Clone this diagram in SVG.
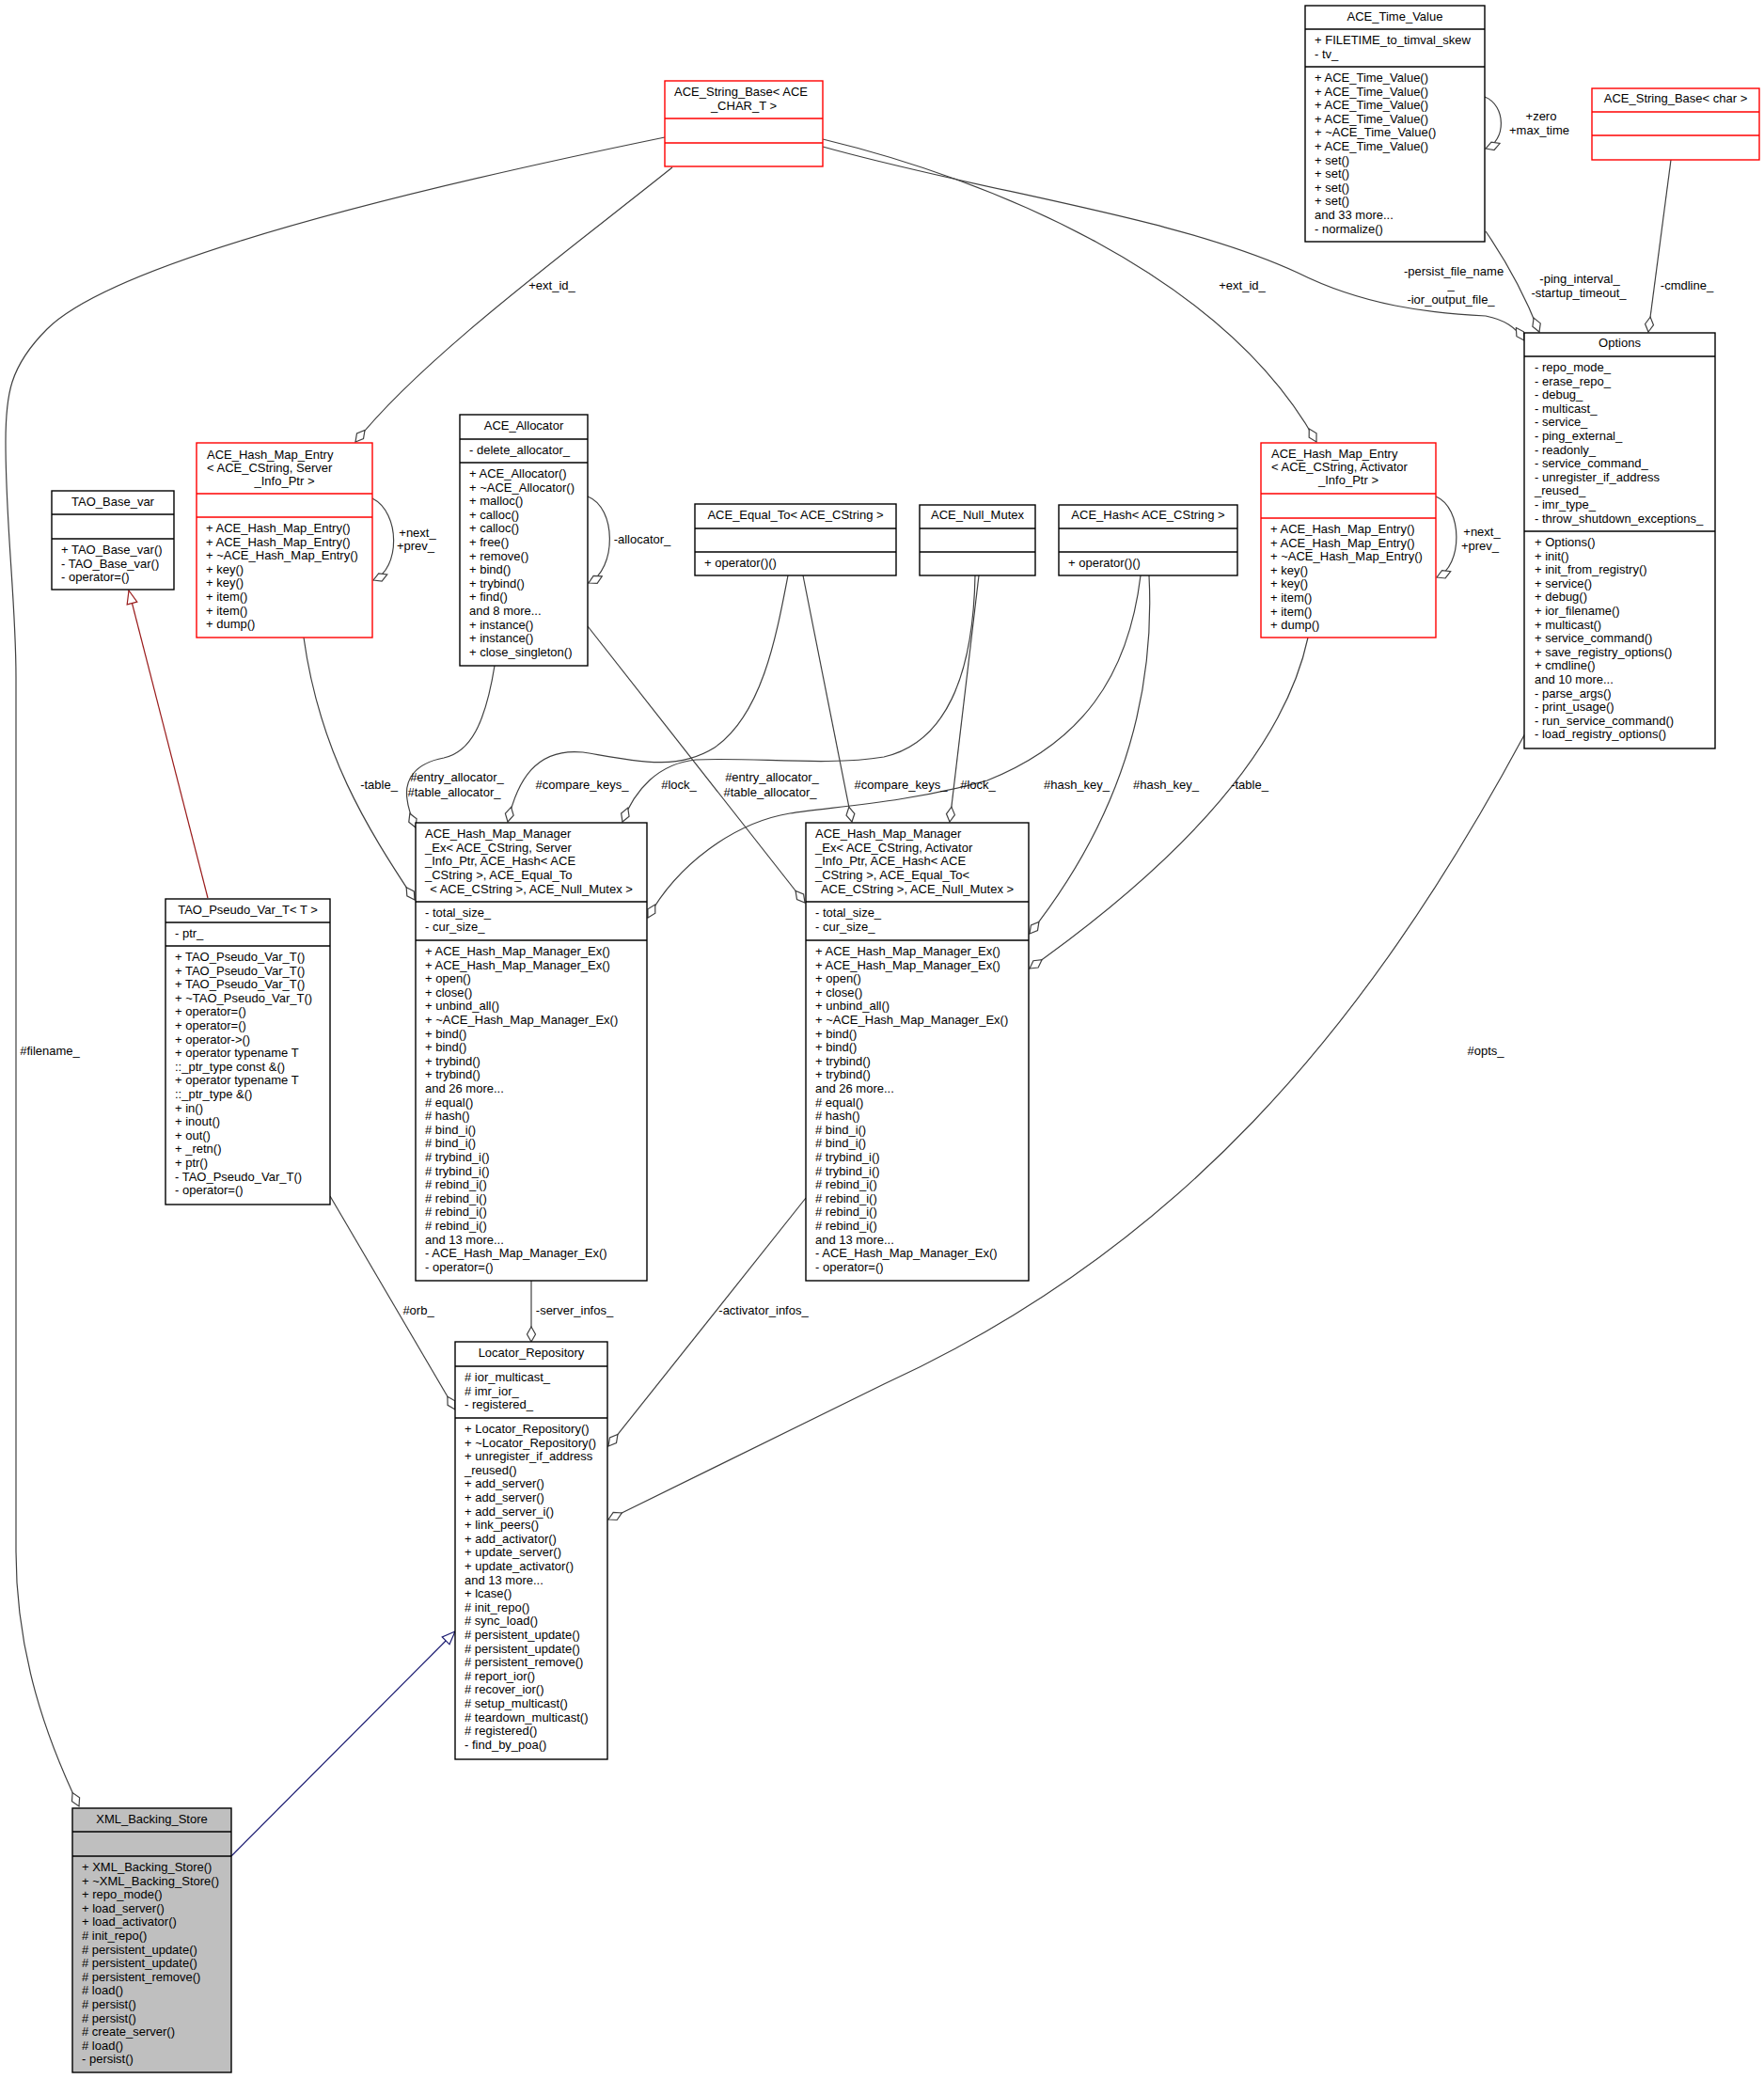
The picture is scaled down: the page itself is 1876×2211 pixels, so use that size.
<svg xmlns="http://www.w3.org/2000/svg" width="1876" height="2211" viewBox="0 0 1876 2211">
<defs>
<style>
text{font-family:"Liberation Sans",Arial,sans-serif;font-size:13px;fill:#000}
.c{text-anchor:middle}
.box{fill:#fff;stroke:#000;stroke-width:1.4}
.red{fill:#fff;stroke:#ff0000;stroke-width:1.4}
.gray{fill:#bfbfbf;stroke:#000;stroke-width:1.4}
.dv{stroke:#000;stroke-width:1.4}
.dr{stroke:#ff0000;stroke-width:1.4}
.e{fill:none;stroke:#404040;stroke-width:1.2}
.agg{marker-end:url(#dia)}
</style>
<marker id="dia" viewBox="-17 -6 18 12" refX="0" refY="0" markerWidth="18" markerHeight="12" markerUnits="userSpaceOnUse" orient="auto"><path d="M0,0 L-8,-4.5 L-16,0 L-8,4.5 Z" fill="#fff" stroke="#404040" stroke-width="1.2"/></marker>
<marker id="triR" viewBox="-15 -7 16 14" refX="0" refY="0" markerWidth="16" markerHeight="14" markerUnits="userSpaceOnUse" orient="auto"><path d="M0,0 L-14,-5.5 L-14,5.5 Z" fill="#fff" stroke="#9a1c1c" stroke-width="1.2"/></marker>
<marker id="triB" viewBox="-15 -7 16 14" refX="0" refY="0" markerWidth="16" markerHeight="14" markerUnits="userSpaceOnUse" orient="auto"><path d="M0,0 L-14,-5.5 L-14,5.5 Z" fill="#fff" stroke="#191970" stroke-width="1.2"/></marker>
</defs>
<rect width="1876" height="2211" fill="#fff"/>

<g id="connectors">
<path class="e agg" d="M707,146 C420,205 120,280 50,350 C10,390 6,420 6,470 C6,560 17,640 17,720 L17,1650 C17,1760 50,1850 84,1921"/>
<path class="e agg" d="M715,178 C600,270 450,380 378,470"/>
<path class="e agg" d="M875,148 C1050,190 1300,290 1400,470"/>
<path class="e agg" d="M875,156 C1050,205 1250,230 1380,290 C1450,325 1520,333 1580,336 C1600,340 1612,348 1621,362"/>
<path class="e agg" d="M1579,103 C1602,112 1602,150 1580,158"/>
<path class="e agg" d="M1580,246 C1600,275 1620,310 1637,353"/>
<path class="e agg" d="M1777,170 L1753,353"/>
<path class="e agg" d="M396,530 C426,545 426,605 397,617"/>
<path class="e agg" d="M625,528 C656,540 656,605 626,620"/>
<path class="e agg" d="M1527,528 C1556,540 1556,602 1528,614"/>
<path class="e agg" d="M323,678 C340,800 390,880 441,957"/>
<path class="e agg" d="M526,708 C516,770 500,800 472,806 C440,812 430,830 433,850 C434,860 437,868 442,880"/>
<path class="e agg" d="M625,666 L856,960"/>
<path class="e agg" d="M838,612 C825,680 810,760 760,795 C720,820 680,810 620,800 C570,795 550,830 540,874"/>
<path class="e agg" d="M854,612 L906,874"/>
<path class="e agg" d="M1037,612 C1035,720 1005,790 940,805 C880,815 800,805 740,808 C700,812 675,840 662,874"/>
<path class="e agg" d="M1041,612 L1010,874"/>
<path class="e agg" d="M1213,612 C1200,720 1150,790 1050,830 C960,855 880,858 840,865 C780,875 720,920 689,976"/>
<path class="e agg" d="M1222,612 C1228,730 1200,860 1095,993"/>
<path class="e agg" d="M1391,678 C1365,800 1250,920 1095,1030"/>
<path class="e agg" d="M565,1362 L565,1427"/>
<path class="e agg" d="M857,1274 L647,1538"/>
<path class="e agg" d="M351,1272 L484,1499"/>
<path class="e agg" d="M1622,780 C1450,1100 1250,1330 940,1472 C820,1530 720,1580 647,1616"/>
<path fill="none" stroke="#9a1c1c" stroke-width="1.2" marker-end="url(#triR)" d="M221,955 L137,628"/>
<path fill="none" stroke="#191970" stroke-width="1.2" marker-end="url(#triB)" d="M246,1974 L484,1735"/>
<g class="lbl">
<text class="c" x="53" y="1122">#filename_</text>
<text class="c" x="587" y="308">+ext_id_</text>
<text class="c" x="1321" y="308">+ext_id_</text>
<text class="c" x="1546" y="293">-persist_file_name</text>
<text class="c" x="1543" y="307">_</text>
<text class="c" x="1543" y="323">-ior_output_file_</text>
<text class="c" x="1639" y="128">+zero</text>
<text class="c" x="1637" y="143">+max_time</text>
<text class="c" x="1680" y="301">-ping_interval_</text>
<text class="c" x="1679" y="316">-startup_timeout_</text>
<text class="c" x="1794" y="308">-cmdline_</text>
<text class="c" x="444" y="571">+next_</text>
<text class="c" x="442" y="585">+prev_</text>
<text class="c" x="683" y="578">-allocator_</text>
<text class="c" x="1576" y="570">+next_</text>
<text class="c" x="1574" y="585">+prev_</text>
<text class="c" x="403" y="839">-table_</text>
<text class="c" x="486" y="831">#entry_allocator_</text>
<text class="c" x="483" y="847">#table_allocator_</text>
<text class="c" x="619" y="839">#compare_keys_</text>
<text class="c" x="722" y="839">#lock_</text>
<text class="c" x="821" y="831">#entry_allocator_</text>
<text class="c" x="819" y="847">#table_allocator_</text>
<text class="c" x="958" y="839">#compare_keys_</text>
<text class="c" x="1040" y="839">#lock_</text>
<text class="c" x="1145" y="839">#hash_key_</text>
<text class="c" x="1240" y="839">#hash_key_</text>
<text class="c" x="1329" y="839">-table_</text>
<text class="c" x="1580" y="1122">#opts_</text>
<text class="c" x="445" y="1398">#orb_</text>
<text class="c" x="611" y="1398">-server_infos_</text>
<text class="c" x="812" y="1398">-activator_infos_</text>
</g>
</g>

<g id="StrBaseT">
<rect class="red" x="707" y="86" width="168" height="91"/>
<line class="dr" x1="707" y1="126" x2="875" y2="126"/><line class="dr" x1="707" y1="152" x2="875" y2="152"/>
<text x="717" y="102">ACE_String_Base&lt; ACE</text>
<text class="c" x="791" y="117">_CHAR_T &gt;</text>
</g>

<g id="TimeValue">
<rect class="box" x="1388" y="6" width="191" height="251"/>
<line class="dv" x1="1388" y1="31" x2="1579" y2="31"/><line class="dv" x1="1388" y1="71" x2="1579" y2="71"/>
<text class="c" x="1483.5" y="22">ACE_Time_Value</text>
<text x="1398" y="47">+ FILETIME_to_timval_skew<tspan x="1398" dy="14.6">- tv_</tspan></text>
<text x="1398" y="87">+ ACE_Time_Value()<tspan x="1398" dy="14.6">+ ACE_Time_Value()</tspan><tspan x="1398" dy="14.6">+ ACE_Time_Value()</tspan><tspan x="1398" dy="14.6">+ ACE_Time_Value()</tspan><tspan x="1398" dy="14.6">+ ~ACE_Time_Value()</tspan><tspan x="1398" dy="14.6">+ ACE_Time_Value()</tspan><tspan x="1398" dy="14.6">+ set()</tspan><tspan x="1398" dy="14.6">+ set()</tspan><tspan x="1398" dy="14.6">+ set()</tspan><tspan x="1398" dy="14.6">+ set()</tspan><tspan x="1398" dy="14.6">and 33 more...</tspan><tspan x="1398" dy="14.6">- normalize()</tspan></text>
</g>

<g id="StrBaseChar">
<rect class="red" x="1693" y="94" width="178" height="76"/>
<line class="dr" x1="1693" y1="119" x2="1871" y2="119"/><line class="dr" x1="1693" y1="144" x2="1871" y2="144"/>
<text class="c" x="1782" y="109">ACE_String_Base&lt; char &gt;</text>
</g>

<g id="Options">
<rect class="box" x="1621" y="354" width="203" height="442"/>
<line class="dv" x1="1621" y1="379" x2="1824" y2="379"/><line class="dv" x1="1621" y1="565" x2="1824" y2="565"/>
<text class="c" x="1722.5" y="369">Options</text>
<text x="1632" y="395">- repo_mode_<tspan x="1632" dy="14.6">- erase_repo_</tspan><tspan x="1632" dy="14.6">- debug_</tspan><tspan x="1632" dy="14.6">- multicast_</tspan><tspan x="1632" dy="14.6">- service_</tspan><tspan x="1632" dy="14.6">- ping_external_</tspan><tspan x="1632" dy="14.6">- readonly_</tspan><tspan x="1632" dy="14.6">- service_command_</tspan><tspan x="1632" dy="14.6">- unregister_if_address</tspan><tspan x="1632" dy="14.6">_reused_</tspan><tspan x="1632" dy="14.6">- imr_type_</tspan><tspan x="1632" dy="14.6">- throw_shutdown_exceptions_</tspan></text>
<text x="1632" y="581">+ Options()<tspan x="1632" dy="14.6">+ init()</tspan><tspan x="1632" dy="14.6">+ init_from_registry()</tspan><tspan x="1632" dy="14.6">+ service()</tspan><tspan x="1632" dy="14.6">+ debug()</tspan><tspan x="1632" dy="14.6">+ ior_filename()</tspan><tspan x="1632" dy="14.6">+ multicast()</tspan><tspan x="1632" dy="14.6">+ service_command()</tspan><tspan x="1632" dy="14.6">+ save_registry_options()</tspan><tspan x="1632" dy="14.6">+ cmdline()</tspan><tspan x="1632" dy="14.6">and 10 more...</tspan><tspan x="1632" dy="14.6">- parse_args()</tspan><tspan x="1632" dy="14.6">- print_usage()</tspan><tspan x="1632" dy="14.6">- run_service_command()</tspan><tspan x="1632" dy="14.6">- load_registry_options()</tspan></text>
</g>

<g id="TAOBaseVar">
<rect class="box" x="55" y="522" width="130" height="105"/>
<line class="dv" x1="55" y1="547" x2="185" y2="547"/><line class="dv" x1="55" y1="573" x2="185" y2="573"/>
<text class="c" x="120" y="538">TAO_Base_var</text>
<text x="65" y="589">+ TAO_Base_var()<tspan x="65" dy="14.6">- TAO_Base_var()</tspan><tspan x="65" dy="14.6">- operator=()</tspan></text>
</g>

<g id="HMEServer">
<rect class="red" x="209" y="471" width="187" height="207"/>
<line class="dr" x1="209" y1="525" x2="396" y2="525"/><line class="dr" x1="209" y1="550" x2="396" y2="550"/>
<text x="220" y="488">ACE_Hash_Map_Entry<tspan x="220" dy="14">&lt; ACE_CString, Server</tspan></text>
<text class="c" x="302.5" y="516">_Info_Ptr &gt;</text>
<text x="219" y="566">+ ACE_Hash_Map_Entry()<tspan x="219" dy="14.6">+ ACE_Hash_Map_Entry()</tspan><tspan x="219" dy="14.6">+ ~ACE_Hash_Map_Entry()</tspan><tspan x="219" dy="14.6">+ key()</tspan><tspan x="219" dy="14.6">+ key()</tspan><tspan x="219" dy="14.6">+ item()</tspan><tspan x="219" dy="14.6">+ item()</tspan><tspan x="219" dy="14.6">+ dump()</tspan></text>
</g>

<g id="Allocator">
<rect class="box" x="489" y="441" width="136" height="267"/>
<line class="dv" x1="489" y1="467" x2="625" y2="467"/><line class="dv" x1="489" y1="492" x2="625" y2="492"/>
<text class="c" x="557" y="457">ACE_Allocator</text>
<text x="499" y="483">- delete_allocator_</text>
<text x="499" y="508">+ ACE_Allocator()<tspan x="499" dy="14.6">+ ~ACE_Allocator()</tspan><tspan x="499" dy="14.6">+ malloc()</tspan><tspan x="499" dy="14.6">+ calloc()</tspan><tspan x="499" dy="14.6">+ calloc()</tspan><tspan x="499" dy="14.6">+ free()</tspan><tspan x="499" dy="14.6">+ remove()</tspan><tspan x="499" dy="14.6">+ bind()</tspan><tspan x="499" dy="14.6">+ trybind()</tspan><tspan x="499" dy="14.6">+ find()</tspan><tspan x="499" dy="14.6">and 8 more...</tspan><tspan x="499" dy="14.6">+ instance()</tspan><tspan x="499" dy="14.6">+ instance()</tspan><tspan x="499" dy="14.6">+ close_singleton()</tspan></text>
</g>

<g id="EqualTo">
<rect class="box" x="739" y="536" width="214" height="76"/>
<line class="dv" x1="739" y1="562" x2="953" y2="562"/><line class="dv" x1="739" y1="587" x2="953" y2="587"/>
<text class="c" x="846" y="552">ACE_Equal_To&lt; ACE_CString &gt;</text>
<text x="749" y="603">+ operator()()</text>
</g>

<g id="NullMutex">
<rect class="box" x="978" y="537" width="123" height="75"/>
<line class="dv" x1="978" y1="562" x2="1101" y2="562"/><line class="dv" x1="978" y1="587" x2="1101" y2="587"/>
<text class="c" x="1039.5" y="552">ACE_Null_Mutex</text>
</g>

<g id="Hash">
<rect class="box" x="1126" y="537" width="190" height="75"/>
<line class="dv" x1="1126" y1="562" x2="1316" y2="562"/><line class="dv" x1="1126" y1="587" x2="1316" y2="587"/>
<text class="c" x="1221" y="552">ACE_Hash&lt; ACE_CString &gt;</text>
<text x="1136" y="603">+ operator()()</text>
</g>

<g id="HMEActivator">
<rect class="red" x="1341" y="471" width="186" height="207"/>
<line class="dr" x1="1341" y1="525" x2="1527" y2="525"/><line class="dr" x1="1341" y1="551" x2="1527" y2="551"/>
<text x="1352" y="487">ACE_Hash_Map_Entry<tspan x="1352" dy="14">&lt; ACE_CString, Activator</tspan></text>
<text class="c" x="1434" y="515">_Info_Ptr &gt;</text>
<text x="1351" y="567">+ ACE_Hash_Map_Entry()<tspan x="1351" dy="14.6">+ ACE_Hash_Map_Entry()</tspan><tspan x="1351" dy="14.6">+ ~ACE_Hash_Map_Entry()</tspan><tspan x="1351" dy="14.6">+ key()</tspan><tspan x="1351" dy="14.6">+ key()</tspan><tspan x="1351" dy="14.6">+ item()</tspan><tspan x="1351" dy="14.6">+ item()</tspan><tspan x="1351" dy="14.6">+ dump()</tspan></text>
</g>

<g id="HMMServer">
<rect class="box" x="442" y="875" width="246" height="487"/>
<line class="dv" x1="442" y1="959" x2="688" y2="959"/><line class="dv" x1="442" y1="1000" x2="688" y2="1000"/>
<text x="452" y="891">ACE_Hash_Map_Manager<tspan x="452" dy="14.7">_Ex&lt; ACE_CString, Server</tspan><tspan x="452" dy="14.7">_Info_Ptr, ACE_Hash&lt; ACE</tspan><tspan x="452" dy="14.7">_CString &gt;, ACE_Equal_To</tspan></text>
<text class="c" x="565" y="950">&lt; ACE_CString &gt;, ACE_Null_Mutex &gt;</text>
<text x="452" y="975">- total_size_<tspan x="452" dy="14.6">- cur_size_</tspan></text>
<text x="452" y="1016">+ ACE_Hash_Map_Manager_Ex()<tspan x="452" dy="14.6">+ ACE_Hash_Map_Manager_Ex()</tspan><tspan x="452" dy="14.6">+ open()</tspan><tspan x="452" dy="14.6">+ close()</tspan><tspan x="452" dy="14.6">+ unbind_all()</tspan><tspan x="452" dy="14.6">+ ~ACE_Hash_Map_Manager_Ex()</tspan><tspan x="452" dy="14.6">+ bind()</tspan><tspan x="452" dy="14.6">+ bind()</tspan><tspan x="452" dy="14.6">+ trybind()</tspan><tspan x="452" dy="14.6">+ trybind()</tspan><tspan x="452" dy="14.6">and 26 more...</tspan><tspan x="452" dy="14.6"># equal()</tspan><tspan x="452" dy="14.6"># hash()</tspan><tspan x="452" dy="14.6"># bind_i()</tspan><tspan x="452" dy="14.6"># bind_i()</tspan><tspan x="452" dy="14.6"># trybind_i()</tspan><tspan x="452" dy="14.6"># trybind_i()</tspan><tspan x="452" dy="14.6"># rebind_i()</tspan><tspan x="452" dy="14.6"># rebind_i()</tspan><tspan x="452" dy="14.6"># rebind_i()</tspan><tspan x="452" dy="14.6"># rebind_i()</tspan><tspan x="452" dy="14.6">and 13 more...</tspan><tspan x="452" dy="14.6">- ACE_Hash_Map_Manager_Ex()</tspan><tspan x="452" dy="14.6">- operator=()</tspan></text>
</g>

<g id="HMMActivator">
<rect class="box" x="857" y="875" width="237" height="487"/>
<line class="dv" x1="857" y1="959" x2="1094" y2="959"/><line class="dv" x1="857" y1="1000" x2="1094" y2="1000"/>
<text x="867" y="891">ACE_Hash_Map_Manager<tspan x="867" dy="14.7">_Ex&lt; ACE_CString, Activator</tspan><tspan x="867" dy="14.7">_Info_Ptr, ACE_Hash&lt; ACE</tspan><tspan x="867" dy="14.7">_CString &gt;, ACE_Equal_To&lt;</tspan></text>
<text class="c" x="975.5" y="950">ACE_CString &gt;, ACE_Null_Mutex &gt;</text>
<text x="867" y="975">- total_size_<tspan x="867" dy="14.6">- cur_size_</tspan></text>
<text x="867" y="1016">+ ACE_Hash_Map_Manager_Ex()<tspan x="867" dy="14.6">+ ACE_Hash_Map_Manager_Ex()</tspan><tspan x="867" dy="14.6">+ open()</tspan><tspan x="867" dy="14.6">+ close()</tspan><tspan x="867" dy="14.6">+ unbind_all()</tspan><tspan x="867" dy="14.6">+ ~ACE_Hash_Map_Manager_Ex()</tspan><tspan x="867" dy="14.6">+ bind()</tspan><tspan x="867" dy="14.6">+ bind()</tspan><tspan x="867" dy="14.6">+ trybind()</tspan><tspan x="867" dy="14.6">+ trybind()</tspan><tspan x="867" dy="14.6">and 26 more...</tspan><tspan x="867" dy="14.6"># equal()</tspan><tspan x="867" dy="14.6"># hash()</tspan><tspan x="867" dy="14.6"># bind_i()</tspan><tspan x="867" dy="14.6"># bind_i()</tspan><tspan x="867" dy="14.6"># trybind_i()</tspan><tspan x="867" dy="14.6"># trybind_i()</tspan><tspan x="867" dy="14.6"># rebind_i()</tspan><tspan x="867" dy="14.6"># rebind_i()</tspan><tspan x="867" dy="14.6"># rebind_i()</tspan><tspan x="867" dy="14.6"># rebind_i()</tspan><tspan x="867" dy="14.6">and 13 more...</tspan><tspan x="867" dy="14.6">- ACE_Hash_Map_Manager_Ex()</tspan><tspan x="867" dy="14.6">- operator=()</tspan></text>
</g>

<g id="TAOPseudoVar">
<rect class="box" x="176" y="956" width="175" height="325"/>
<line class="dv" x1="176" y1="981" x2="351" y2="981"/><line class="dv" x1="176" y1="1006" x2="351" y2="1006"/>
<text class="c" x="263.5" y="972">TAO_Pseudo_Var_T&lt; T &gt;</text>
<text x="186" y="997">- ptr_</text>
<text x="186" y="1022">+ TAO_Pseudo_Var_T()<tspan x="186" dy="14.6">+ TAO_Pseudo_Var_T()</tspan><tspan x="186" dy="14.6">+ TAO_Pseudo_Var_T()</tspan><tspan x="186" dy="14.6">+ ~TAO_Pseudo_Var_T()</tspan><tspan x="186" dy="14.6">+ operator=()</tspan><tspan x="186" dy="14.6">+ operator=()</tspan><tspan x="186" dy="14.6">+ operator-&gt;()</tspan><tspan x="186" dy="14.6">+ operator typename T</tspan><tspan x="186" dy="14.6">::_ptr_type const &amp;()</tspan><tspan x="186" dy="14.6">+ operator typename T</tspan><tspan x="186" dy="14.6">::_ptr_type &amp;()</tspan><tspan x="186" dy="14.6">+ in()</tspan><tspan x="186" dy="14.6">+ inout()</tspan><tspan x="186" dy="14.6">+ out()</tspan><tspan x="186" dy="14.6">+ _retn()</tspan><tspan x="186" dy="14.6">+ ptr()</tspan><tspan x="186" dy="14.6">- TAO_Pseudo_Var_T()</tspan><tspan x="186" dy="14.6">- operator=()</tspan></text>
</g>

<g id="LocatorRepository">
<rect class="box" x="484" y="1427" width="162" height="444"/>
<line class="dv" x1="484" y1="1453" x2="646" y2="1453"/><line class="dv" x1="484" y1="1508" x2="646" y2="1508"/>
<text class="c" x="565" y="1443">Locator_Repository</text>
<text x="494" y="1469"># ior_multicast_<tspan x="494" dy="14.6"># imr_ior_</tspan><tspan x="494" dy="14.6">- registered_</tspan></text>
<text x="494" y="1524">+ Locator_Repository()<tspan x="494" dy="14.6">+ ~Locator_Repository()</tspan><tspan x="494" dy="14.6">+ unregister_if_address</tspan><tspan x="494" dy="14.6">_reused()</tspan><tspan x="494" dy="14.6">+ add_server()</tspan><tspan x="494" dy="14.6">+ add_server()</tspan><tspan x="494" dy="14.6">+ add_server_i()</tspan><tspan x="494" dy="14.6">+ link_peers()</tspan><tspan x="494" dy="14.6">+ add_activator()</tspan><tspan x="494" dy="14.6">+ update_server()</tspan><tspan x="494" dy="14.6">+ update_activator()</tspan><tspan x="494" dy="14.6">and 13 more...</tspan><tspan x="494" dy="14.6">+ lcase()</tspan><tspan x="494" dy="14.6"># init_repo()</tspan><tspan x="494" dy="14.6"># sync_load()</tspan><tspan x="494" dy="14.6"># persistent_update()</tspan><tspan x="494" dy="14.6"># persistent_update()</tspan><tspan x="494" dy="14.6"># persistent_remove()</tspan><tspan x="494" dy="14.6"># report_ior()</tspan><tspan x="494" dy="14.6"># recover_ior()</tspan><tspan x="494" dy="14.6"># setup_multicast()</tspan><tspan x="494" dy="14.6"># teardown_multicast()</tspan><tspan x="494" dy="14.6"># registered()</tspan><tspan x="494" dy="14.6">- find_by_poa()</tspan></text>
</g>

<g id="XMLBackingStore">
<rect class="gray" x="77" y="1923" width="169" height="281"/>
<line class="dv" x1="77" y1="1948" x2="246" y2="1948"/><line class="dv" x1="77" y1="1974" x2="246" y2="1974"/>
<text class="c" x="161.5" y="1939">XML_Backing_Store</text>
<text x="87" y="1990">+ XML_Backing_Store()<tspan x="87" dy="14.6">+ ~XML_Backing_Store()</tspan><tspan x="87" dy="14.6">+ repo_mode()</tspan><tspan x="87" dy="14.6">+ load_server()</tspan><tspan x="87" dy="14.6">+ load_activator()</tspan><tspan x="87" dy="14.6"># init_repo()</tspan><tspan x="87" dy="14.6"># persistent_update()</tspan><tspan x="87" dy="14.6"># persistent_update()</tspan><tspan x="87" dy="14.6"># persistent_remove()</tspan><tspan x="87" dy="14.6"># load()</tspan><tspan x="87" dy="14.6"># persist()</tspan><tspan x="87" dy="14.6"># persist()</tspan><tspan x="87" dy="14.6"># create_server()</tspan><tspan x="87" dy="14.6"># load()</tspan><tspan x="87" dy="14.6">- persist()</tspan></text>
</g>
</svg>
